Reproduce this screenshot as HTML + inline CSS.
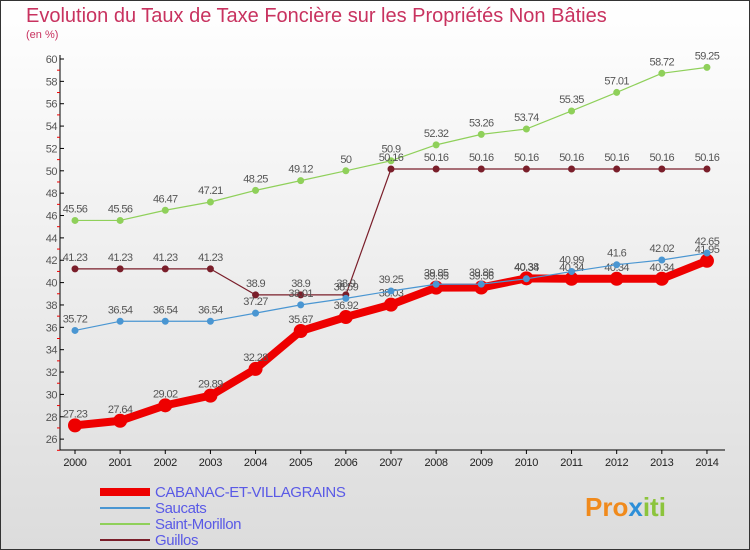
<!DOCTYPE html>
<html><head><meta charset="utf-8"><style>
body{margin:0;}
svg{display:block;font-family:"Liberation Sans",sans-serif;}
</style></head><body>
<svg id="c" width="750" height="550" viewBox="0 0 750 550">
<defs><linearGradient id="bg" x1="0" y1="0" x2="0" y2="1"><stop offset="0" stop-color="#ffffff"/><stop offset="1" stop-color="#dcdcdc"/></linearGradient></defs>
<rect x="0.5" y="0.5" width="749" height="549" fill="url(#bg)" stroke="#333"/>
<text x="26" y="22" font-size="20" fill="#c8325f">Evolution du Taux de Taxe Foncière sur les Propriétés Non Bâties</text>
<text x="26" y="38" font-size="11" fill="#c8325f">(en %)</text>
<g id="axes"></g>
<g id="series"></g>
<g id="legend"></g>
<g><text x="585" y="516" font-size="26" font-weight="bold" fill="#f08a1c">Pro<tspan fill="#2d8fd8">x</tspan><tspan fill="#8cc43c">iti</tspan></text></g>
</svg>
<script>
const years=[2000,2001,2002,2003,2004,2005,2006,2007,2008,2009,2010,2011,2012,2013,2014];
const cabanac=[27.23,27.64,29.02,29.89,32.28,35.67,36.92,38.03,39.55,39.56,40.38,40.34,40.34,40.34,41.95];
const saucats=[35.72,36.54,36.54,36.54,37.27,38.01,38.59,39.25,39.85,39.86,40.34,40.99,41.6,42.02,42.65];
const morillon=[45.56,45.56,46.47,47.21,48.25,49.12,50,50.9,52.32,53.26,53.74,55.35,57.01,58.72,59.25];
const guillos=[41.23,41.23,41.23,41.23,38.9,38.9,38.9,50.16,50.16,50.16,50.16,50.16,50.16,50.16,50.16];
const seriesNames=["CABANAC-ET-VILLAGRAINS","Saucats","Saint-Morillon","Guillos"];
const yTicks=[26,28,30,32,34,36,38,40,42,44,46,48,50,52,54,56,58,60];
const NS="http://www.w3.org/2000/svg";
const X=i=>75+(years[i]-2000)*45.14;
const Y=v=>59+(60-v)*11.18;
function mk(t,a,p){const e=document.createElementNS(NS,t);for(const k in a)e.setAttribute(k,a[k]);p.appendChild(e);return e;}
const ax=document.getElementById('axes');
const yAxis=mk('line',{x1:60,y1:55,x2:60,y2:450,stroke:'#000'},ax);


const xAxis=mk('line',{x1:60,y1:450,x2:725,y2:450,stroke:'#000'},ax);


yTicks.forEach(v=>{
  mk('line',{x1:60,y1:Y(v),x2:64,y2:Y(v),stroke:'#000'},ax);
  mk('line',{x1:57,y1:Y(v-1),x2:60,y2:Y(v-1),stroke:'#e00'},ax);
  const t=mk('text',{x:57,y:Y(v)+4,'font-size':11,fill:'#555','text-anchor':'end','letter-spacing':'-0.5'},ax);t.textContent=v;
  
  
});
years.forEach((y,i)=>{
  mk('line',{x1:X(i),y1:450,x2:X(i),y2:454,stroke:'#000'},ax);
  const t=mk('text',{x:X(i),y:466,'font-size':11,fill:'#222','text-anchor':'middle','letter-spacing':'-0.3'},ax);t.textContent=y;
  
  
});
const sg=document.getElementById('series');
function draw(vals,color,w,r,dot,name){
  const g=mk('g',{},sg);
  
  
  mk('polyline',{points:vals.map((v,i)=>X(i)+','+Y(v)).join(' '),fill:'none',stroke:color,'stroke-width':w,'stroke-linejoin':'round'},g);
  vals.forEach((v,i)=>{
    const c=mk('circle',{cx:X(i),cy:Y(v),r:r,fill:dot,stroke:color,'stroke-width':1},g);
    
    
    const t=mk('text',{x:X(i),y:Y(v)-8,'font-size':11,fill:'#555','text-anchor':'middle','letter-spacing':'-0.6'},g);t.textContent=String(v);
    
    
  });
}
draw(morillon,'#8fd05a',1.2,3,'#8fd05a','saint-morillon-series');
draw(guillos,'#7a1e2a',1.2,3,'#7a1e2a','guillos-series');
draw(cabanac,'#ee0000',8,6.5,'#ee0000','cabanac-series');
draw(saucats,'#4a96d2',1.2,3,'#4a96d2','saucats-series');
const lg=document.getElementById('legend');
const cols=['#ee0000','#4a96d2','#8fd05a','#7a1e2a'],ws=[8,2,2,2];
seriesNames.forEach((n,i)=>{
  const yy=492+i*16;
  const g=mk('g',{},lg);
  
  
  mk('line',{x1:100,y1:yy,x2:150,y2:yy,stroke:cols[i],'stroke-width':ws[i]},g);
  const t=mk('text',{x:155,y:yy+5,'font-size':15,fill:'#5a5ae6','letter-spacing':'-0.4'},g);t.textContent=n;
});
</script>
</body></html>
